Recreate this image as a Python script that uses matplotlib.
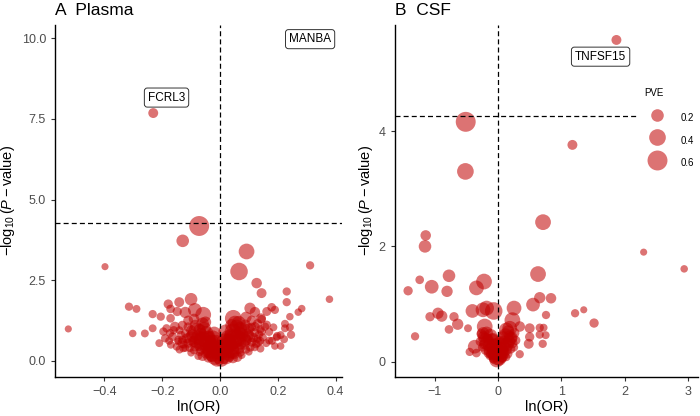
import matplotlib
matplotlib.use("Agg")
import matplotlib.pyplot as plt
from matplotlib.lines import Line2D

plt.rcParams['font.family'] = ['Liberation Sans', 'DejaVu Sans']
plt.rcParams['mathtext.fontset'] = 'custom'
plt.rcParams['mathtext.rm'] = 'Liberation Sans'
plt.rcParams['mathtext.it'] = 'Liberation Sans:italic'

# ---- Plasma data (ln(OR), -log10 P, PVE) ----
plasma_lnor = [
    -0.231, -0.072, -0.129, -0.398, 0.092, 0.066, 0.312, 0.127, 0.144, 0.231,
    0.231, 0.379, 0.283, 0.271, 0.242, -0.525, -0.315, -0.289, -0.302, -0.260,
    -0.233, -0.205, -0.233, -0.196, -0.179, -0.171, -0.141, -0.100, -0.148, -0.171,
    -0.156, -0.185, -0.173, -0.164, -0.176, -0.144, -0.150, -0.127, -0.058, -0.087,
    -0.120, 0.046, 0.052, 0.104, 0.121, 0.142, 0.121, 0.144, 0.179, 0.190,
    0.162, 0.144, 0.156, 0.162, 0.185, 0.225, 0.242, 0.225, 0.246, 0.198,
    0.196, 0.222, 0.171, 0.148, 0.139, 0.190, 0.210,
    -0.010, 0.005, 0.012, -0.018, 0.020, -0.025, 0.028, -0.005, 0.008, -0.012,
    0.015, -0.030, 0.035, -0.040, 0.042, -0.035, 0.040, -0.045, 0.050, -0.050,
    0.055, -0.060, 0.060, -0.065, 0.065, -0.070, 0.070, -0.075, 0.075, -0.080,
    0.080, -0.085, 0.085, -0.090, 0.090, -0.095, 0.095, -0.100, 0.100, -0.105,
    0.105, -0.110, 0.110, -0.115, 0.115, -0.120, 0.120, -0.125, 0.125, -0.130,
    0.130, -0.135, 0.135, -0.140, 0.140, -0.020, 0.022, -0.028, 0.030, -0.038,
    0.038, -0.048, 0.045, -0.055, 0.058, -0.030, 0.032, -0.050, 0.050, -0.070,
    0.070, -0.090, 0.090, -0.015, 0.018, -0.008, 0.010, -0.060, 0.065, -0.085,
    0.088, -0.110, 0.110, -0.075, 0.075, -0.040, 0.045, -0.100, 0.100, -0.025,
    0.027, -0.045, 0.048, -0.065, 0.068, -0.080, 0.082, -0.120, 0.120, -0.145,
    -0.160, -0.130, -0.110, -0.090, 0.090, 0.110, 0.130, 0.170, 0.160, -0.170,
    -0.140, 0.140, -0.060, 0.060, -0.030, 0.030, -0.070, 0.070, -0.050, 0.040,
    -0.020, 0.020, -0.100, 0.100, -0.130, 0.130, -0.190, 0.180, -0.210, 0.210,
]
plasma_logp = [
    7.68, 4.18, 3.72, 2.92, 3.39, 2.77, 2.96, 2.41, 2.10, 2.15,
    1.82, 1.91, 1.62, 1.51, 1.37, 0.99, 1.68, 1.61, 0.85, 0.85,
    1.45, 1.37, 1.01, 0.91, 1.76, 1.61, 1.82, 1.91, 1.53, 1.32,
    1.06, 1.01, 0.86, 0.75, 0.62, 0.65, 0.44, 0.39, 1.43, 1.58,
    1.50, 1.32, 1.17, 1.63, 1.51, 1.32, 1.06, 0.91, 1.66, 1.58,
    1.53, 1.29, 1.06, 1.12, 1.04, 1.15, 1.04, 1.01, 0.81, 0.77,
    0.73, 0.67, 0.63, 0.73, 0.62, 0.46, 0.46,
    0.05, 0.03, 0.10, 0.12, 0.15, 0.20, 0.22, 0.08, 0.18, 0.25,
    0.30, 0.32, 0.35, 0.28, 0.30, 0.45, 0.48, 0.55, 0.60, 0.40,
    0.42, 0.62, 0.70, 0.35, 0.38, 0.50, 0.55, 0.72, 0.80, 0.90,
    0.95, 0.45, 0.50, 0.60, 0.65, 0.78, 0.80, 0.95, 1.00, 0.40,
    0.42, 0.55, 0.58, 0.70, 0.72, 0.85, 0.88, 0.50, 0.52, 0.65,
    0.68, 0.80, 0.82, 0.95, 0.98, 0.40, 0.45, 0.60, 0.62, 0.75,
    0.78, 0.85, 0.90, 1.00, 1.05, 0.15, 0.12, 0.22, 0.20, 0.28,
    0.26, 0.33, 0.35, 0.55, 0.58, 0.38, 0.42, 1.15, 1.18, 1.10,
    1.12, 1.05, 1.05, 0.15, 0.18, 0.10, 0.08, 0.25, 0.28, 0.70,
    0.72, 0.65, 0.68, 0.85, 0.88, 0.62, 0.66, 0.40, 0.42, 0.60,
    0.95, 1.10, 1.25, 1.30, 1.35, 1.25, 1.15, 0.90, 0.55, 0.50,
    0.35, 0.38, 0.15, 0.12, 0.50, 0.52, 0.95, 1.00, 1.20, 1.10,
    0.85, 0.90, 0.70, 0.75, 0.55, 0.58, 0.70, 0.62, 0.55, 0.80,
]
plasma_pve = [
    0.10, 0.60, 0.20, 0.02, 0.35, 0.45, 0.05, 0.12, 0.10, 0.05,
    0.05, 0.03, 0.03, 0.03, 0.03, 0.02, 0.05, 0.04, 0.03, 0.04,
    0.05, 0.05, 0.04, 0.05, 0.08, 0.06, 0.10, 0.20, 0.08, 0.06,
    0.10, 0.05, 0.05, 0.06, 0.04, 0.05, 0.04, 0.04, 0.35, 0.25,
    0.15, 0.40, 0.30, 0.15, 0.12, 0.10, 0.08, 0.06, 0.06, 0.05,
    0.07, 0.06, 0.05, 0.05, 0.04, 0.04, 0.04, 0.04, 0.05, 0.05,
    0.04, 0.04, 0.04, 0.05, 0.05, 0.03, 0.03,
    0.30, 0.25, 0.20, 0.35, 0.40, 0.30, 0.25, 0.15, 0.10, 0.20,
    0.15, 0.40, 0.45, 0.20, 0.30, 0.25, 0.20, 0.35, 0.30, 0.15,
    0.25, 0.50, 0.40, 0.10, 0.15, 0.20, 0.20, 0.30, 0.25, 0.45,
    0.35, 0.10, 0.10, 0.15, 0.15, 0.20, 0.20, 0.10, 0.12, 0.05,
    0.06, 0.08, 0.07, 0.10, 0.09, 0.06, 0.07, 0.04, 0.05, 0.05,
    0.04, 0.06, 0.05, 0.04, 0.05, 0.30, 0.35, 0.25, 0.30, 0.20,
    0.25, 0.30, 0.40, 0.25, 0.30, 0.15, 0.10, 0.08, 0.08, 0.06,
    0.06, 0.05, 0.05, 0.40, 0.45, 0.50, 0.45, 0.20, 0.25, 0.15,
    0.12, 0.08, 0.06, 0.04, 0.04, 0.10, 0.10, 0.03, 0.03, 0.35,
    0.30, 0.45, 0.50, 0.15, 0.18, 0.30, 0.28, 0.04, 0.04, 0.03,
    0.05, 0.08, 0.10, 0.12, 0.15, 0.10, 0.08, 0.05, 0.04, 0.04,
    0.04, 0.04, 0.10, 0.10, 0.30, 0.35, 0.20, 0.25, 0.15, 0.20,
    0.25, 0.30, 0.25, 0.20, 0.10, 0.10, 0.05, 0.04, 0.04, 0.04,
]

# ---- CSF data ----
csf_lnor = [
    1.87, -0.51, -0.515, 1.175, 0.711, -1.142, -1.153, 2.30, 2.94, 0.632,
    -0.774, -1.237, -1.42, -1.047, -0.805, -0.221, -0.341, 0.659, 0.837, 0.553,
    0.253, -0.948, -0.889, -1.074, -0.695, -0.637, -0.774, -0.474, -1.31, -0.404,
    -0.237, -0.068, -0.210, 1.217, 1.354, 1.517, 0.758, 0.227, 0.132, 0.343,
    0.500, 0.500, 0.485, 0.659, 0.720, 0.659, 0.753, 0.706, 0.343, -0.447,
    -0.341, -0.368, -0.236, -0.180, 0.185,
    -0.02, 0.02, -0.05, 0.05, -0.08, 0.08, -0.11, 0.11, -0.14, 0.14,
    -0.17, 0.17, -0.20, 0.20, -0.23, 0.22, -0.10, 0.10, -0.06, 0.06,
    -0.03, 0.03, -0.15, 0.15, -0.20, 0.20, -0.25, 0.25, -0.12, 0.12,
    -0.18, 0.16, -0.08, 0.08, -0.01, 0.01, -0.04, 0.04, -0.13, 0.13,
    -0.22, 0.23, -0.28, 0.28, -0.07, 0.07, -0.16, 0.18, -0.26, 0.26,
]
csf_logp = [
    5.58, 4.16, 3.30, 3.76, 2.42, 2.19, 2.00, 1.90, 1.61, 1.52,
    1.49, 1.42, 1.23, 1.30, 1.22, 1.39, 1.28, 1.11, 1.10, 0.99,
    0.93, 0.84, 0.79, 0.78, 0.78, 0.65, 0.56, 0.58, 0.44, 0.88,
    0.90, 0.88, 0.61, 0.84, 0.90, 0.67, 0.81, 0.72, 0.55, 0.61,
    0.58, 0.43, 0.31, 0.59, 0.59, 0.47, 0.46, 0.31, 0.13, 0.17,
    0.15, 0.26, 0.49, 0.93, 0.58,
    0.03, 0.05, 0.10, 0.12, 0.15, 0.16, 0.20, 0.22, 0.28, 0.30,
    0.33, 0.35, 0.38, 0.40, 0.43, 0.42, 0.35, 0.32, 0.25, 0.28,
    0.18, 0.20, 0.15, 0.14, 0.20, 0.22, 0.25, 0.25, 0.45, 0.45,
    0.50, 0.52, 0.40, 0.42, 0.10, 0.15, 0.30, 0.33, 0.10, 0.08,
    0.30, 0.32, 0.35, 0.37, 0.05, 0.06, 0.40, 0.45, 0.48, 0.50,
]
csf_pve = [
    0.10, 0.60, 0.40, 0.10, 0.35, 0.12, 0.20, 0.02, 0.03, 0.35,
    0.20, 0.06, 0.08, 0.25, 0.15, 0.35, 0.30, 0.15, 0.12, 0.25,
    0.30, 0.15, 0.15, 0.08, 0.08, 0.15, 0.06, 0.04, 0.05, 0.25,
    0.30, 0.45, 0.35, 0.05, 0.02, 0.08, 0.05, 0.35, 0.30, 0.12,
    0.10, 0.08, 0.10, 0.05, 0.04, 0.05, 0.04, 0.05, 0.05, 0.05,
    0.06, 0.25, 0.20, 0.30, 0.30,
    0.30, 0.25, 0.20, 0.30, 0.25, 0.20, 0.30, 0.25, 0.20, 0.25,
    0.30, 0.20, 0.25, 0.20, 0.15, 0.15, 0.35, 0.30, 0.40, 0.35,
    0.45, 0.40, 0.10, 0.10, 0.08, 0.08, 0.06, 0.06, 0.25, 0.30,
    0.20, 0.20, 0.15, 0.20, 0.50, 0.35, 0.20, 0.25, 0.05, 0.05,
    0.10, 0.10, 0.08, 0.08, 0.08, 0.08, 0.12, 0.12, 0.10, 0.10,
]

threshold = 4.26
plasma_labels = [("FCRL3", -0.185, 8.16), ("MANBA", 0.312, 9.97)]
csf_labels = [("TNFSF15", 1.62, 5.29)]
legend_pve = [0.2, 0.4, 0.6]

point_color = "#C00000"


def pve_size(v):
    # scatter area in pt^2
    return 20 + 310 * v


fig = plt.figure(figsize=(7, 4.16), dpi=100)
ax1 = fig.add_axes([0.0786, 0.0945, 0.41, 0.8455])
ax2 = fig.add_axes([0.564, 0.0945, 0.4333, 0.8455])

panels = [
    (ax1, plasma_lnor, plasma_logp, plasma_pve, plasma_labels, "A  Plasma"),
    (ax2, csf_lnor, csf_logp, csf_pve, csf_labels, "B  CSF"),
]

for ax, xs, ys, pv, labels, title in panels:
    assert len(xs) == len(ys) == len(pv)
    ax.scatter(xs, ys, s=[pve_size(v) for v in pv], color=point_color,
               alpha=0.55, linewidths=0, zorder=2)
    ax.axvline(0, color="black", lw=0.9, dashes=(4, 2.5), zorder=3)
    ax.axhline(threshold, color="black", lw=0.9, dashes=(4, 2.5), zorder=3)
    for name, lx, ly in labels:
        ax.text(lx, ly, name, fontsize=8.5, ha="center", va="center", zorder=4,
                bbox=dict(boxstyle="round,pad=0.3,rounding_size=0.25",
                          fc="white", ec="#333333", lw=0.7))
    for side in ["top", "right"]:
        ax.spines[side].set_visible(False)
    for side in ["left", "bottom"]:
        ax.spines[side].set_linewidth(1.0)
    ax.tick_params(labelsize=9, labelcolor="#4D4D4D", length=3, width=0.8,
                   color="#333333")
    ax.set_xlabel("ln(OR)", fontsize=10.5, labelpad=2)
    ax.set_ylabel(r"$-\log_{10}(P-\mathrm{value})$", fontsize=10.5, labelpad=3)
    ax.set_title(title, loc="left", fontsize=12.5, pad=7)

ax1.set_xlim(-0.571, 0.4225)
ax1.set_ylim(-0.49, 10.41)
ax1.set_xticks([-0.4, -0.2, 0.0, 0.2, 0.4])
ax1.set_xticklabels(["\u22120.4", "\u22120.2", "0.0", "0.2", "0.4"])
ax1.set_yticks([0, 2.5, 5, 7.5, 10])
ax1.set_yticklabels(["0.0", "2.5", "5.0", "7.5", "10.0"])

ax2.set_xlim(-1.63, 3.16)
ax2.set_ylim(-0.26, 5.84)
ax2.set_xticks([-1, 0, 1, 2, 3])
ax2.set_xticklabels(["\u22121", "0", "1", "2", "3"])
ax2.set_yticks([0, 2, 4])

handles = [Line2D([], [], marker="o", linestyle="none", color=point_color,
                  alpha=0.55, markeredgewidth=0, markersize=pve_size(v) ** 0.5)
           for v in legend_pve]
leg = ax2.legend(handles, [str(v) for v in legend_pve], title="PVE",
                 loc="upper left", bbox_to_anchor=(0.798, 0.842), fontsize=7,
                 title_fontsize=7, frameon=True, facecolor="white",
                 edgecolor="none", framealpha=1, handlelength=2.5,
                 handletextpad=1.2, handleheight=2.75, labelspacing=0.3,
                 borderpad=0.8, borderaxespad=0)
leg._legend_box.align = "left"
# extra room between the legend title and the keys
leg._legend_box.sep = 0.3 * 7 + 5
leg.set_zorder(5)

fig.savefig("out.png", dpi=100)
